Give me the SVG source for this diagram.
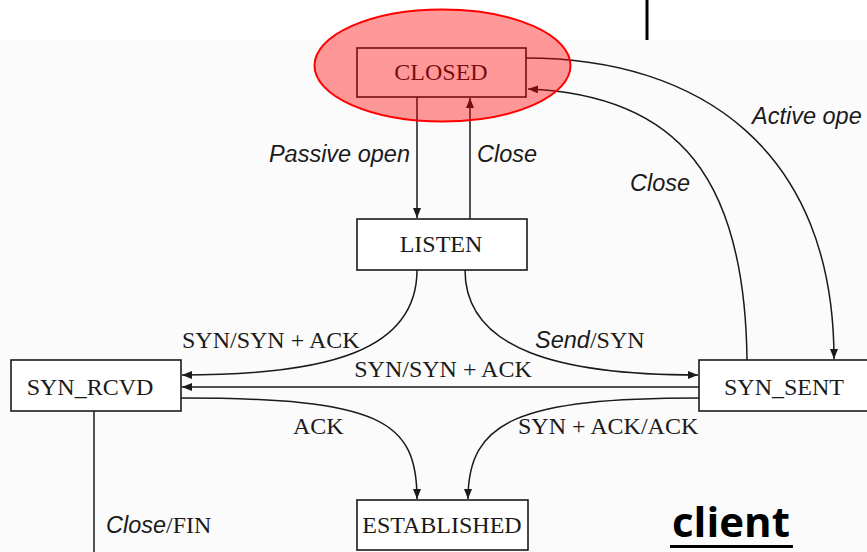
<svg xmlns="http://www.w3.org/2000/svg" width="867" height="552" viewBox="0 0 867 552">
<defs>
<marker id="ah" viewBox="0 0 10 8" refX="10" refY="4" markerWidth="10" markerHeight="8" markerUnits="userSpaceOnUse" orient="auto">
<path d="M0,0 L10,4 L0,8 z" fill="#1a1a1a"/>
</marker>
<style>
.box{fill:#ffffff;stroke:#1a1a1a;stroke-width:1.6}
.nt{font-family:"Liberation Serif",serif;font-size:24px;fill:#1a1a1a;text-anchor:middle}
.lb{font-family:"Liberation Serif",serif;font-size:24px;fill:#1a1a1a}
.it{font-family:"Liberation Sans",Arial,sans-serif;font-style:italic;font-size:23.5px;fill:#1a1a1a}
.ln{fill:none;stroke:#1a1a1a;stroke-width:1.5}
</style>
</defs>
<rect x="0" y="0" width="867" height="552" fill="#fcfbfc"/>
<rect x="0" y="0" width="867" height="40" fill="#ffffff"/>
<line x1="647" y1="0" x2="647" y2="40" stroke="#000" stroke-width="3"/>

<g id="connectors">
<line class="ln" x1="417" y1="97" x2="417" y2="218" marker-end="url(#ah)"/>
<line class="ln" x1="470" y1="219" x2="470" y2="98" marker-end="url(#ah)"/>
<path class="ln" d="M417,270 C417,350 330,375 182,375" marker-end="url(#ah)"/>
<path class="ln" d="M465,270 C465,350 560,375 698,375" marker-end="url(#ah)"/>
<line class="ln" x1="699" y1="387" x2="182" y2="387" marker-end="url(#ah)"/>
<path class="ln" d="M181,398 C380,398 417,420 417,499" marker-end="url(#ah)"/>
<path class="ln" d="M699,398 C520,398 468,420 468,499" marker-end="url(#ah)"/>
<path class="ln" d="M526,58 C700,58 834,150 834,359" marker-end="url(#ah)"/>
<path class="ln" d="M747,360 C745,180 680,95 528,89" marker-end="url(#ah)"/>
<line class="ln" x1="94" y1="411" x2="94" y2="552"/>
</g>

<g id="labels">
<text class="it" x="410" y="162" text-anchor="end">Passive open</text>
<text class="it" x="477" y="162">Close</text>
<text class="it" x="630" y="191">Close</text>
<text class="it" x="752" y="124">Active ope</text>
<text class="lb" x="182" y="348">SYN/SYN + ACK</text>
<text class="lb" x="443" y="377" text-anchor="middle">SYN/SYN + ACK</text>
<text class="lb" x="535" y="348"><tspan class="it">Send</tspan>/SYN</text>
<text class="lb" x="293" y="434">ACK</text>
<text class="lb" x="518" y="434">SYN + ACK/ACK</text>
<text class="lb" x="106" y="533"><tspan class="it">Close</tspan>/FIN</text>
</g>

<g id="closed">
<rect class="box" x="357" y="48" width="169" height="49"/>
<text class="nt" x="441" y="80">CLOSED</text>
<ellipse cx="442.5" cy="65.5" rx="128" ry="56" fill="#ff0000" fill-opacity="0.4" stroke="#ff0000" stroke-width="2"/>
</g>
<g id="listen">
<rect class="box" x="357" y="219" width="170" height="51"/>
<text class="nt" x="441" y="252">LISTEN</text>
</g>
<g id="syn_rcvd">
<rect class="box" x="11" y="360" width="170" height="51"/>
<text class="nt" x="90" y="395">SYN_RCVD</text>
</g>
<g id="syn_sent">
<rect class="box" x="699" y="360" width="172" height="51"/>
<text class="nt" x="784" y="395">SYN_SENT</text>
</g>
<g id="established">
<rect class="box" x="357" y="500" width="171" height="50"/>
<text class="nt" x="442" y="533">ESTABLISHED</text>
</g>
<g id="client">
<text x="672" y="537" font-family="'Open Sans','Liberation Sans',sans-serif" font-weight="bold" font-size="42" fill="#000">client</text>
<rect x="670" y="545" width="123" height="3" fill="#000"/>
</g>
</svg>
